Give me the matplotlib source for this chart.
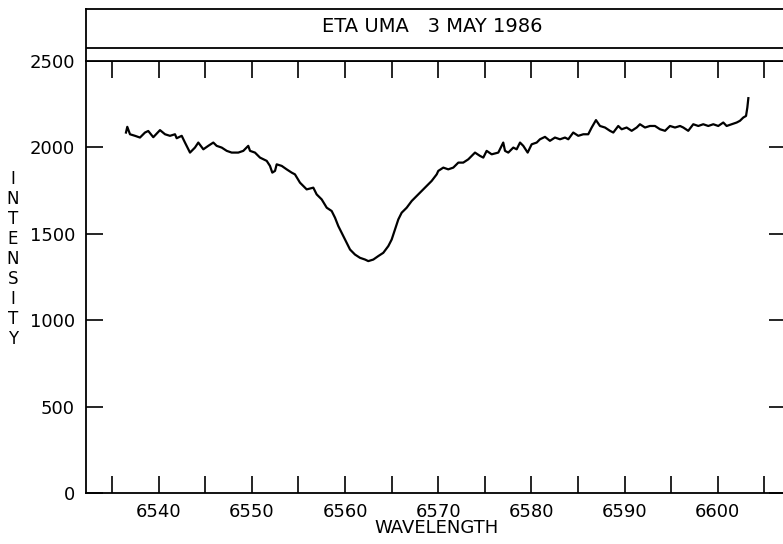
import numpy as np
import matplotlib
matplotlib.use("Agg")
import matplotlib.pyplot as plt

# ---- data ----
wavelength = [
    6536.49, 6536.63, 6536.92, 6537.46, 6537.99, 6538.53, 6538.88, 6539.42, 6540.14, 6540.68,
    6541.21, 6541.75, 6541.93, 6542.47, 6542.82, 6543.36, 6543.89, 6544.25, 6544.79, 6545.32,
    6545.86, 6546.22, 6546.76, 6547.30, 6547.83, 6548.54, 6549.08, 6549.61, 6549.80, 6550.33,
    6550.87, 6551.59, 6551.94, 6552.19, 6552.48, 6552.66, 6553.20, 6553.73, 6554.27, 6554.62,
    6555.16, 6555.88, 6556.59, 6556.95, 6557.49, 6558.03, 6558.56, 6558.92, 6559.27, 6559.81,
    6560.17, 6560.53, 6561.06, 6561.60, 6562.14, 6562.49, 6563.03, 6563.56, 6564.10, 6564.64,
    6565.00, 6565.35, 6565.71, 6566.07, 6566.61, 6567.15, 6567.68, 6568.22, 6568.76, 6569.29,
    6569.83, 6570.00, 6570.54, 6571.07, 6571.61, 6572.15, 6572.68, 6573.22, 6573.94, 6574.47,
    6574.83, 6575.19, 6575.73, 6576.44, 6576.97, 6577.16, 6577.51, 6578.05, 6578.41, 6578.77,
    6579.12, 6579.59, 6580.02, 6580.56, 6580.91, 6581.45, 6581.98, 6582.52, 6583.06, 6583.60,
    6583.95, 6584.48, 6585.02, 6585.56, 6586.09, 6586.46, 6586.92, 6587.35, 6587.89, 6588.42,
    6588.78, 6589.31, 6589.68, 6590.21, 6590.75, 6591.29, 6591.64, 6592.18, 6592.71, 6593.25,
    6593.79, 6594.33, 6594.86, 6595.40, 6595.94, 6596.29, 6596.82, 6597.36, 6597.90, 6598.43,
    6598.97, 6599.51, 6600.04, 6600.58, 6600.94, 6601.48, 6602.02, 6602.37, 6602.73, 6603.02,
    6603.16, 6603.27,
]
intensity = [
    2086, 2119, 2076, 2067, 2057, 2086, 2095, 2059, 2100, 2076,
    2067, 2076, 2053, 2067, 2028, 1970, 1999, 2028, 1989, 2009,
    2028, 2009, 1999, 1980, 1970, 1970, 1980, 2009, 1980, 1970,
    1941, 1922, 1893, 1854, 1864, 1902, 1893, 1873, 1854, 1844,
    1796, 1757, 1767, 1728, 1699, 1651, 1632, 1593, 1545, 1487,
    1448, 1409, 1380, 1361, 1351, 1342, 1351, 1371, 1390, 1429,
    1467, 1525, 1583, 1622, 1651, 1690, 1719, 1748, 1777, 1806,
    1844, 1864, 1883, 1873, 1883, 1912, 1912, 1931, 1970, 1951,
    1941, 1980, 1960, 1970, 2028, 1980, 1970, 1999, 1989, 2028,
    2009, 1970, 2018, 2028, 2047, 2061, 2038, 2057, 2047, 2057,
    2047, 2086, 2067, 2076, 2076, 2115, 2158, 2124, 2115, 2096,
    2086, 2124, 2105, 2115, 2096, 2115, 2134, 2115, 2124, 2124,
    2105, 2096, 2124, 2115, 2124, 2115, 2096, 2134, 2124, 2134,
    2124, 2134, 2124, 2144, 2124, 2134, 2144, 2154, 2173, 2182,
    2230, 2285,
]
x_ticks = [6535, 6540, 6545, 6550, 6555, 6560, 6565, 6570, 6575, 6580, 6585, 6590, 6595, 6600, 6605]
x_tick_labels = ["", "6540", "", "6550", "", "6560", "", "6570", "", "6580", "", "6590", "", "6600", ""]
y_ticks = [0, 500, 1000, 1500, 2000, 2500]
y_tick_labels = ["0", "500", "1000", "1500", "2000", "2500"]
title_text = "ETA UMA   3 MAY 1986"
x_label = "WAVELENGTH"
y_label = "INTENSITY"

W, H = 783, 544
fig = plt.figure(figsize=(W / 100, H / 100), dpi=100)
plt.rcParams['font.family'] = ['DejaVu Sans']

lw = 1.3
# main axes (pixel geometry: left 86, right 786, top 61, bottom 493)
ax = fig.add_axes([86 / W, (H - 493) / H, 700 / W, 432 / H])
ax.plot(wavelength, intensity, color="black", lw=1.6)
ax.set_xlim(6532.2, 6607.31)
ax.set_ylim(0, 2500)
ax.set_xticks(x_ticks)
ax.set_xticklabels(x_tick_labels)
ax.set_yticks(y_ticks)
ax.set_yticklabels(y_tick_labels)
ax.tick_params(direction="in", length=12.5, width=1.2, top=True, right=True,
               labelsize=13, pad=7, colors="black")
ax.tick_params(axis="y", pad=8)
for s in ax.spines.values():
    s.set_linewidth(lw)

# title box above the axes
tax = fig.add_axes([86 / W, (H - 61) / H, 700 / W, 52 / H])
tax.set_xlim(0, 1)
tax.set_ylim(0, 1)
tax.set_xticks([])
tax.set_yticks([])
for s in tax.spines.values():
    s.set_linewidth(lw)
tax.axhline(13 / 52, color="black", lw=lw)
tax.text(0.495, 0.66, title_text, ha="center", va="center", fontsize=14)

fig.text(437 / W, 1 - 528 / H, x_label, ha="center", va="center", fontsize=13)
fig.text(13 / W, 1 - 259 / H, "\n".join(y_label), ha="center", va="center",
         fontsize=12, linespacing=1.14)

fig.savefig("out.png", dpi=100)
